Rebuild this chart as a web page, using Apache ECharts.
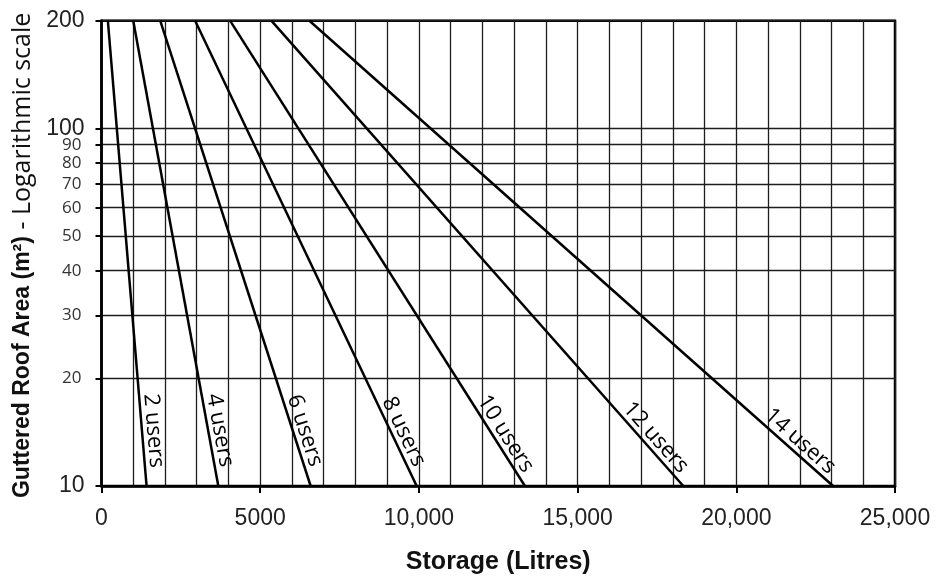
<!DOCTYPE html>
<html><head><meta charset="utf-8">
<script src="https://cdn.jsdelivr.net/npm/echarts@6/dist/echarts.min.js"></script>
<style>html,body{margin:0;padding:0;background:#fff}#c{width:941px;height:580px}</style>
</head><body><div id="c"></div>
<script>
const seriesNames = ['2 users', '4 users', '6 users', '8 users', '10 users', '12 users', '14 users'];
const storageAtRoof200 = [200, 1000, 1850, 2950, 4050, 5350, 6550];
const storageAtRoof10 = [1420, 3680, 6590, 9930, 13340, 18330, 23050];
const roofAreaEnds = [200, 10];
const yTickValues = [10, 20, 30, 40, 50, 60, 70, 80, 90, 100, 200];
const yBigLabels = [10, 100, 200];

const chart = echarts.init(document.getElementById('c'), null, {renderer: 'canvas'});

const series = seriesNames.map((name, i) => ({
  name: name,
  type: 'line',
  data: [[storageAtRoof200[i], roofAreaEnds[0]], [storageAtRoof10[i], roofAreaEnds[1]]],
  symbol: 'none',
  lineStyle: {color: '#000', width: 2.5},
  silent: true,
  animation: false
}));

const gridLineStyle = {color: '#1e1e1e', width: 1.3};

chart.setOption({
  animation: false,
  backgroundColor: '#fff',
  grid: {left: 101.5, right: 46, top: 20.7, bottom: 92.7, show: true, borderColor: '#000', borderWidth: 2.5, backgroundColor: 'transparent'},
  xAxis: {
    type: 'value', min: 0, max: 25000, interval: 5000,
    name: 'Storage (Litres)', nameLocation: 'middle', nameGap: 64,
    nameTextStyle: {fontFamily: 'Liberation Sans', fontWeight: 'bold', fontSize: 25, color: '#111'},
    axisLine: {show: true, onZero: false, lineStyle: {color: '#000', width: 2.5}},
    axisTick: {show: true, length: 7, lineStyle: {color: '#000', width: 2}},
    axisLabel: {margin: 21, fontFamily: 'Liberation Sans', fontSize: 23, color: '#222',
      formatter: v => v >= 10000 ? v.toLocaleString('en-US') : String(v)},
    splitLine: {show: true, lineStyle: gridLineStyle},
    minorTick: {show: false, splitNumber: 5},
    minorSplitLine: {show: true, lineStyle: gridLineStyle}
  },
  yAxis: {
    type: 'log', logBase: 10, min: 10, max: 200,
    name: '{b|Guttered Roof Area (m²)}{n| - Logarithmic scale}',
    nameLocation: 'middle', nameGap: 62, nameRotate: 90,
    nameTextStyle: {
      padding: [0, 4, 0, 0],
      rich: {
        b: {fontFamily: 'Liberation Sans', fontWeight: 'bold', fontSize: 23, color: '#111'},
        n: {fontFamily: 'Open Sans', fontSize: 25, color: '#111'}
      }
    },
    axisLine: {show: true, onZero: false, lineStyle: {color: '#000', width: 2.5}},
    axisTick: {show: true, length: 6, customValues: yTickValues, lineStyle: {color: '#000', width: 2}},
    axisLabel: {
      margin: 17, customValues: yTickValues,
      formatter: v => yBigLabels.includes(Math.round(v)) ? '{big|' + Math.round(v) + '}' : '{sm|' + Math.round(v) + '}',
      rich: {
        big: {fontFamily: 'Liberation Sans', fontSize: 23, color: '#222'},
        sm: {fontFamily: 'Open Sans', fontSize: 17, color: '#333', padding: [0, 3, 0, 0]}
      }
    },
    splitLine: {show: true, lineStyle: gridLineStyle}
  },
  series: series
});

// Line labels placed along each line, computed through the chart's own scales
const graphics = seriesNames.map((name, i) => {
  const pTop = chart.convertToPixel({gridIndex: 0}, [storageAtRoof200[i], roofAreaEnds[0]]);
  const pBot = chart.convertToPixel({gridIndex: 0}, [storageAtRoof10[i], roofAreaEnds[1]]);
  const dx = pBot[0] - pTop[0], dy = pBot[1] - pTop[1];
  const len = Math.hypot(dx, dy);
  const ux = dx / len, uy = dy / len;
  const along = 54.5, perp = 11.5;
  const cx = pBot[0] - ux * along + uy * perp;
  const cy = pBot[1] - uy * along - ux * perp;
  return {
    type: 'text', x: cx, y: cy, rotation: -Math.atan2(dy, dx), silent: true,
    style: {text: name, font: '22px "Open Sans"', fill: '#000', align: 'center', verticalAlign: 'middle'}
  };
});
chart.setOption({graphic: graphics});
</script>
</body></html>
